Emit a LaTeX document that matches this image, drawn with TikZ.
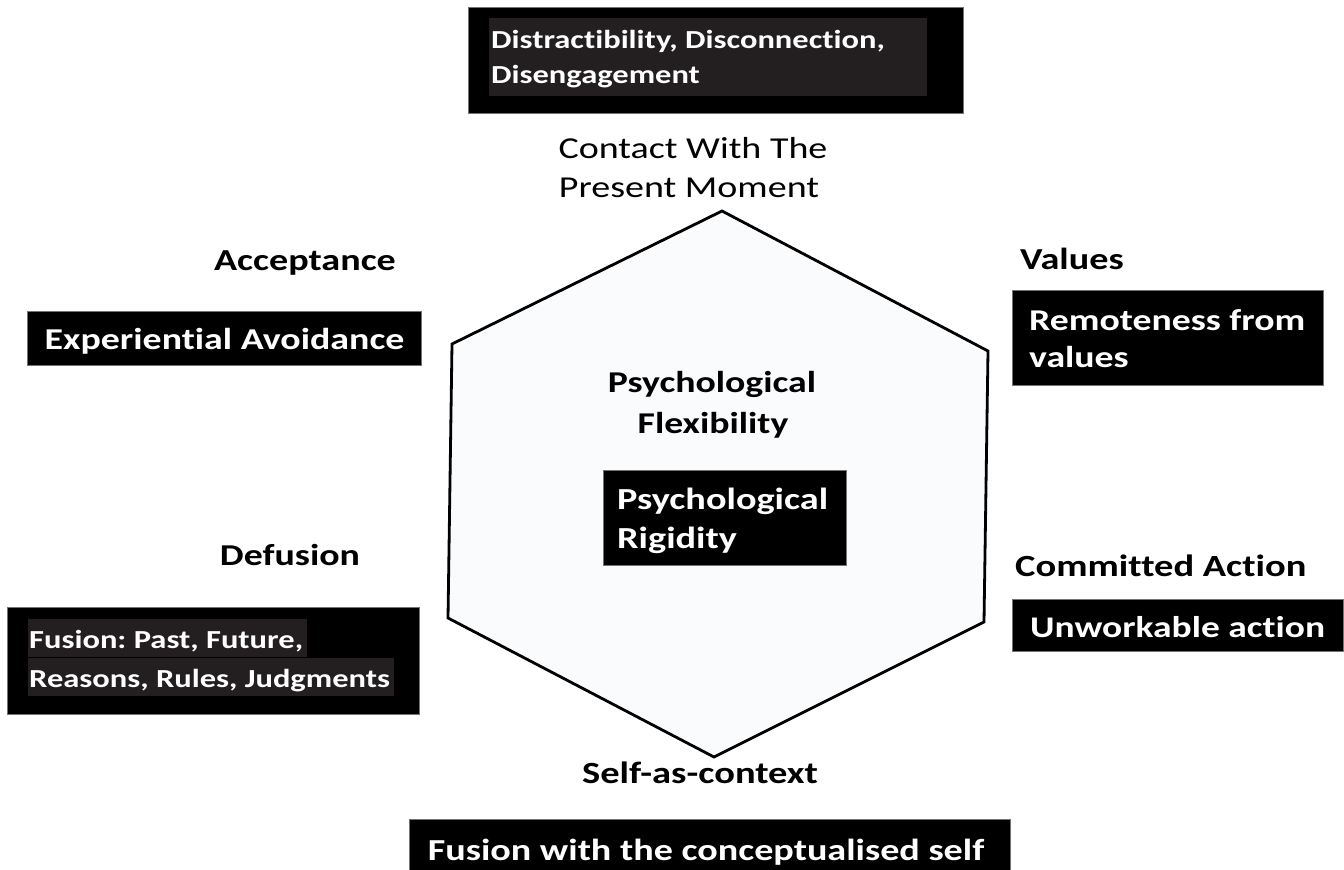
\documentclass[tikz,border=0pt]{standalone}
\usepackage{fontspec}
\setmainfont{Carlito}[FakeStretch=1.25, Ligatures=NoCommon]
\definecolor{inkdark}{RGB}{35,31,32}
\definecolor{hexfill}{RGB}{250,251,253}
\newcommand\txtsize[1]{\fontsize{#1}{#1}\selectfont}
\frenchspacing
\begin{document}
\begin{tikzpicture}[x=1pt,y=-1pt,
  darkbox/.style={draw=black!55, line width=1pt, fill=black, inner sep=0pt},
  wtext/.style={text=white, inner sep=0pt, anchor=base west},
  wmid/.style={text=white, inner sep=0pt, anchor=base},
  label/.style={text=black, inner sep=0pt, anchor=base},
  labelw/.style={text=black, inner sep=0pt, anchor=base west},
]
\useasboundingbox (0,0) rectangle (1344,870);

% hexagon of the six processes
\coordinate (h1) at (722,211);
\coordinate (h2) at (988,351);
\coordinate (h3) at (984,622);
\coordinate (h4) at (714,757);
\coordinate (h5) at (448,618);
\coordinate (h6) at (452,344);
\draw[line width=2.8pt, line join=miter, fill=hexfill] (h1) -- (h2) -- (h3) -- (h4) -- (h5) -- (h6) -- cycle;

% top: present moment
\node[darkbox, minimum width=495pt, minimum height=106pt] (topbox) at (715.5,60) {};
\fill[inkdark] (489,18) rectangle (927,96);
\node[wtext, font=\bfseries\txtsize{26}] (top1) at (491,48) {Distractibility, Disconnection,};
\node[wtext, font=\bfseries\txtsize{26}] (top2) at (491,83) {Disengagement};
\node[label, font=\txtsize{30.4}] (contact1) at (693,158) {Contact With The};
\node[label, font=\txtsize{30.4}] (contact2) at (689,197) {Present Moment};

% acceptance
\node[label, font=\bfseries\txtsize{30.5}] (accept) at (305,270) {Acceptance};
\node[darkbox, minimum width=394pt, minimum height=54pt] (avoidbox) at (224,338) {};
\node[wmid, font=\bfseries\txtsize{30.3}] (avoid) at (224.5,349) {Experiential Avoidance};

% values
\node[labelw, font=\bfseries\txtsize{30.5}] (values) at (1020,269) {Values};
\node[darkbox, minimum width=311pt, minimum height=95pt] (remotebox) at (1167.5,337.5) {};
\node[wtext, font=\bfseries\txtsize{30.2}] (remote1) at (1029,330) {Remoteness from};
\node[wtext, font=\bfseries\txtsize{30.2}] (remote2) at (1029,367) {values};

% centre
\node[label, font=\bfseries\txtsize{30.2}] (flex1) at (712,392) {Psychological};
\node[label, font=\bfseries\txtsize{30.2}] (flex2) at (713,433) {Flexibility};
\node[darkbox, minimum width=243pt, minimum height=95pt] (rigidbox) at (724.5,517.5) {};
\node[wtext, font=\bfseries\txtsize{30.6}] (rigid1) at (617,509) {Psychological};
\node[wtext, font=\bfseries\txtsize{30.6}] (rigid2) at (617,548) {Rigidity};

% defusion
\node[label, font=\bfseries\txtsize{30.3}] (defusion) at (290,565) {Defusion};
\node[darkbox, minimum width=412pt, minimum height=107pt] (fusionbox) at (213,660.5) {};
\fill[inkdark] (28,619) rectangle (307,657);
\fill[inkdark] (28,658) rectangle (394,696);
\node[wtext, font=\bfseries\txtsize{26}] (fusion1) at (29,648) {Fusion: Past, Future,};
\node[wtext, font=\bfseries\txtsize{26}] (fusion2) at (29,687) {Reasons, Rules, Judgments};

% committed action
\node[labelw, font=\bfseries\txtsize{30.8}] (committed) at (1015,576) {Committed Action};
\node[darkbox, minimum width=331pt, minimum height=52pt] (unworkbox) at (1177.5,625) {};
\node[wtext, font=\bfseries\txtsize{30}] (unwork) at (1030,637) {Unworkable action};

% self-as-context
\node[label, font=\bfseries\txtsize{30.8}] (selfctx) at (700,783) {Self-as-context};
\node[darkbox, minimum width=601pt, minimum height=54pt] (selfbox) at (709.5,846) {};
\node[wmid, font=\bfseries\txtsize{30.5}] (selffusion) at (706,860) {Fusion with the conceptualised self};
\end{tikzpicture}
\end{document}
